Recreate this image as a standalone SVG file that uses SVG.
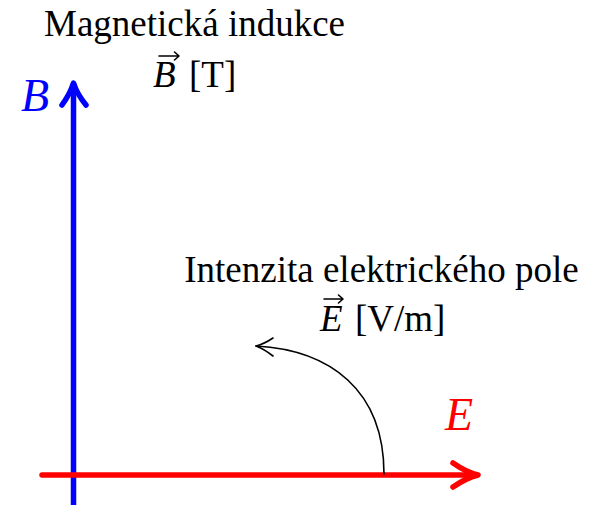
<svg xmlns="http://www.w3.org/2000/svg" width="589" height="505" viewBox="0 0 589 505">
<style>
.t{font-family:"Liberation Serif","Times New Roman",serif;font-size:37px;fill:#000}
.i{font-style:italic}
.vec{fill:none;stroke:#000;stroke-width:1.6;stroke-linecap:round;stroke-linejoin:round}
</style>
<rect width="589" height="505" fill="#fff"/>
<g id="connectors">
<g id="axis-B" fill="none" stroke="#0000ff" stroke-width="5.5" stroke-linecap="round" stroke-linejoin="round">
<path d="M73.5,505 V84"/>
<path d="M62,105 Q70,94 73.5,83 Q77,94 86,105"/>
</g>
<g id="axis-E" fill="none" stroke="#ff0000" stroke-width="5.5" stroke-linecap="round" stroke-linejoin="round">
<path d="M42,475 H476"/>
<path d="M453,463 Q466,472 478,475 Q466,478 453,487"/>
</g>
<g id="rotation" fill="none" stroke="#000" stroke-width="1.6" stroke-linecap="round" stroke-linejoin="round">
<path d="M384,474 C384,390 330,350 256,346"/>
<path d="M273,338 Q264,344 256,346 Q264,349 273,356"/>
</g>
</g>
<g id="label-B">
<text class="t i" x="21" y="111" style="fill:#0000ff;font-size:46px">B</text>
</g>
<g id="label-E">
<text class="t i" x="445" y="430" style="fill:#ff0000;font-size:46px">E</text>
</g>
<g id="node-magnetic">
<text class="t" x="194.5" y="36" text-anchor="middle">Magnetická indukce</text>
<text class="t" x="153" y="87"><tspan class="i">B</tspan><tspan x="189">[T]</tspan></text>
<path class="vec" d="M159,56 H179 M174.5,52 L179,56 L174.5,60"/>
</g>
<g id="node-electric">
<text class="t" x="381.5" y="282" text-anchor="middle">Intenzita elektrického pole</text>
<text class="t" x="320" y="331"><tspan class="i">E</tspan><tspan x="355">[V/m]</tspan></text>
<path class="vec" d="M324,299 H343 M338.5,295 L343,299 L338.5,303"/>
</g>
</svg>
